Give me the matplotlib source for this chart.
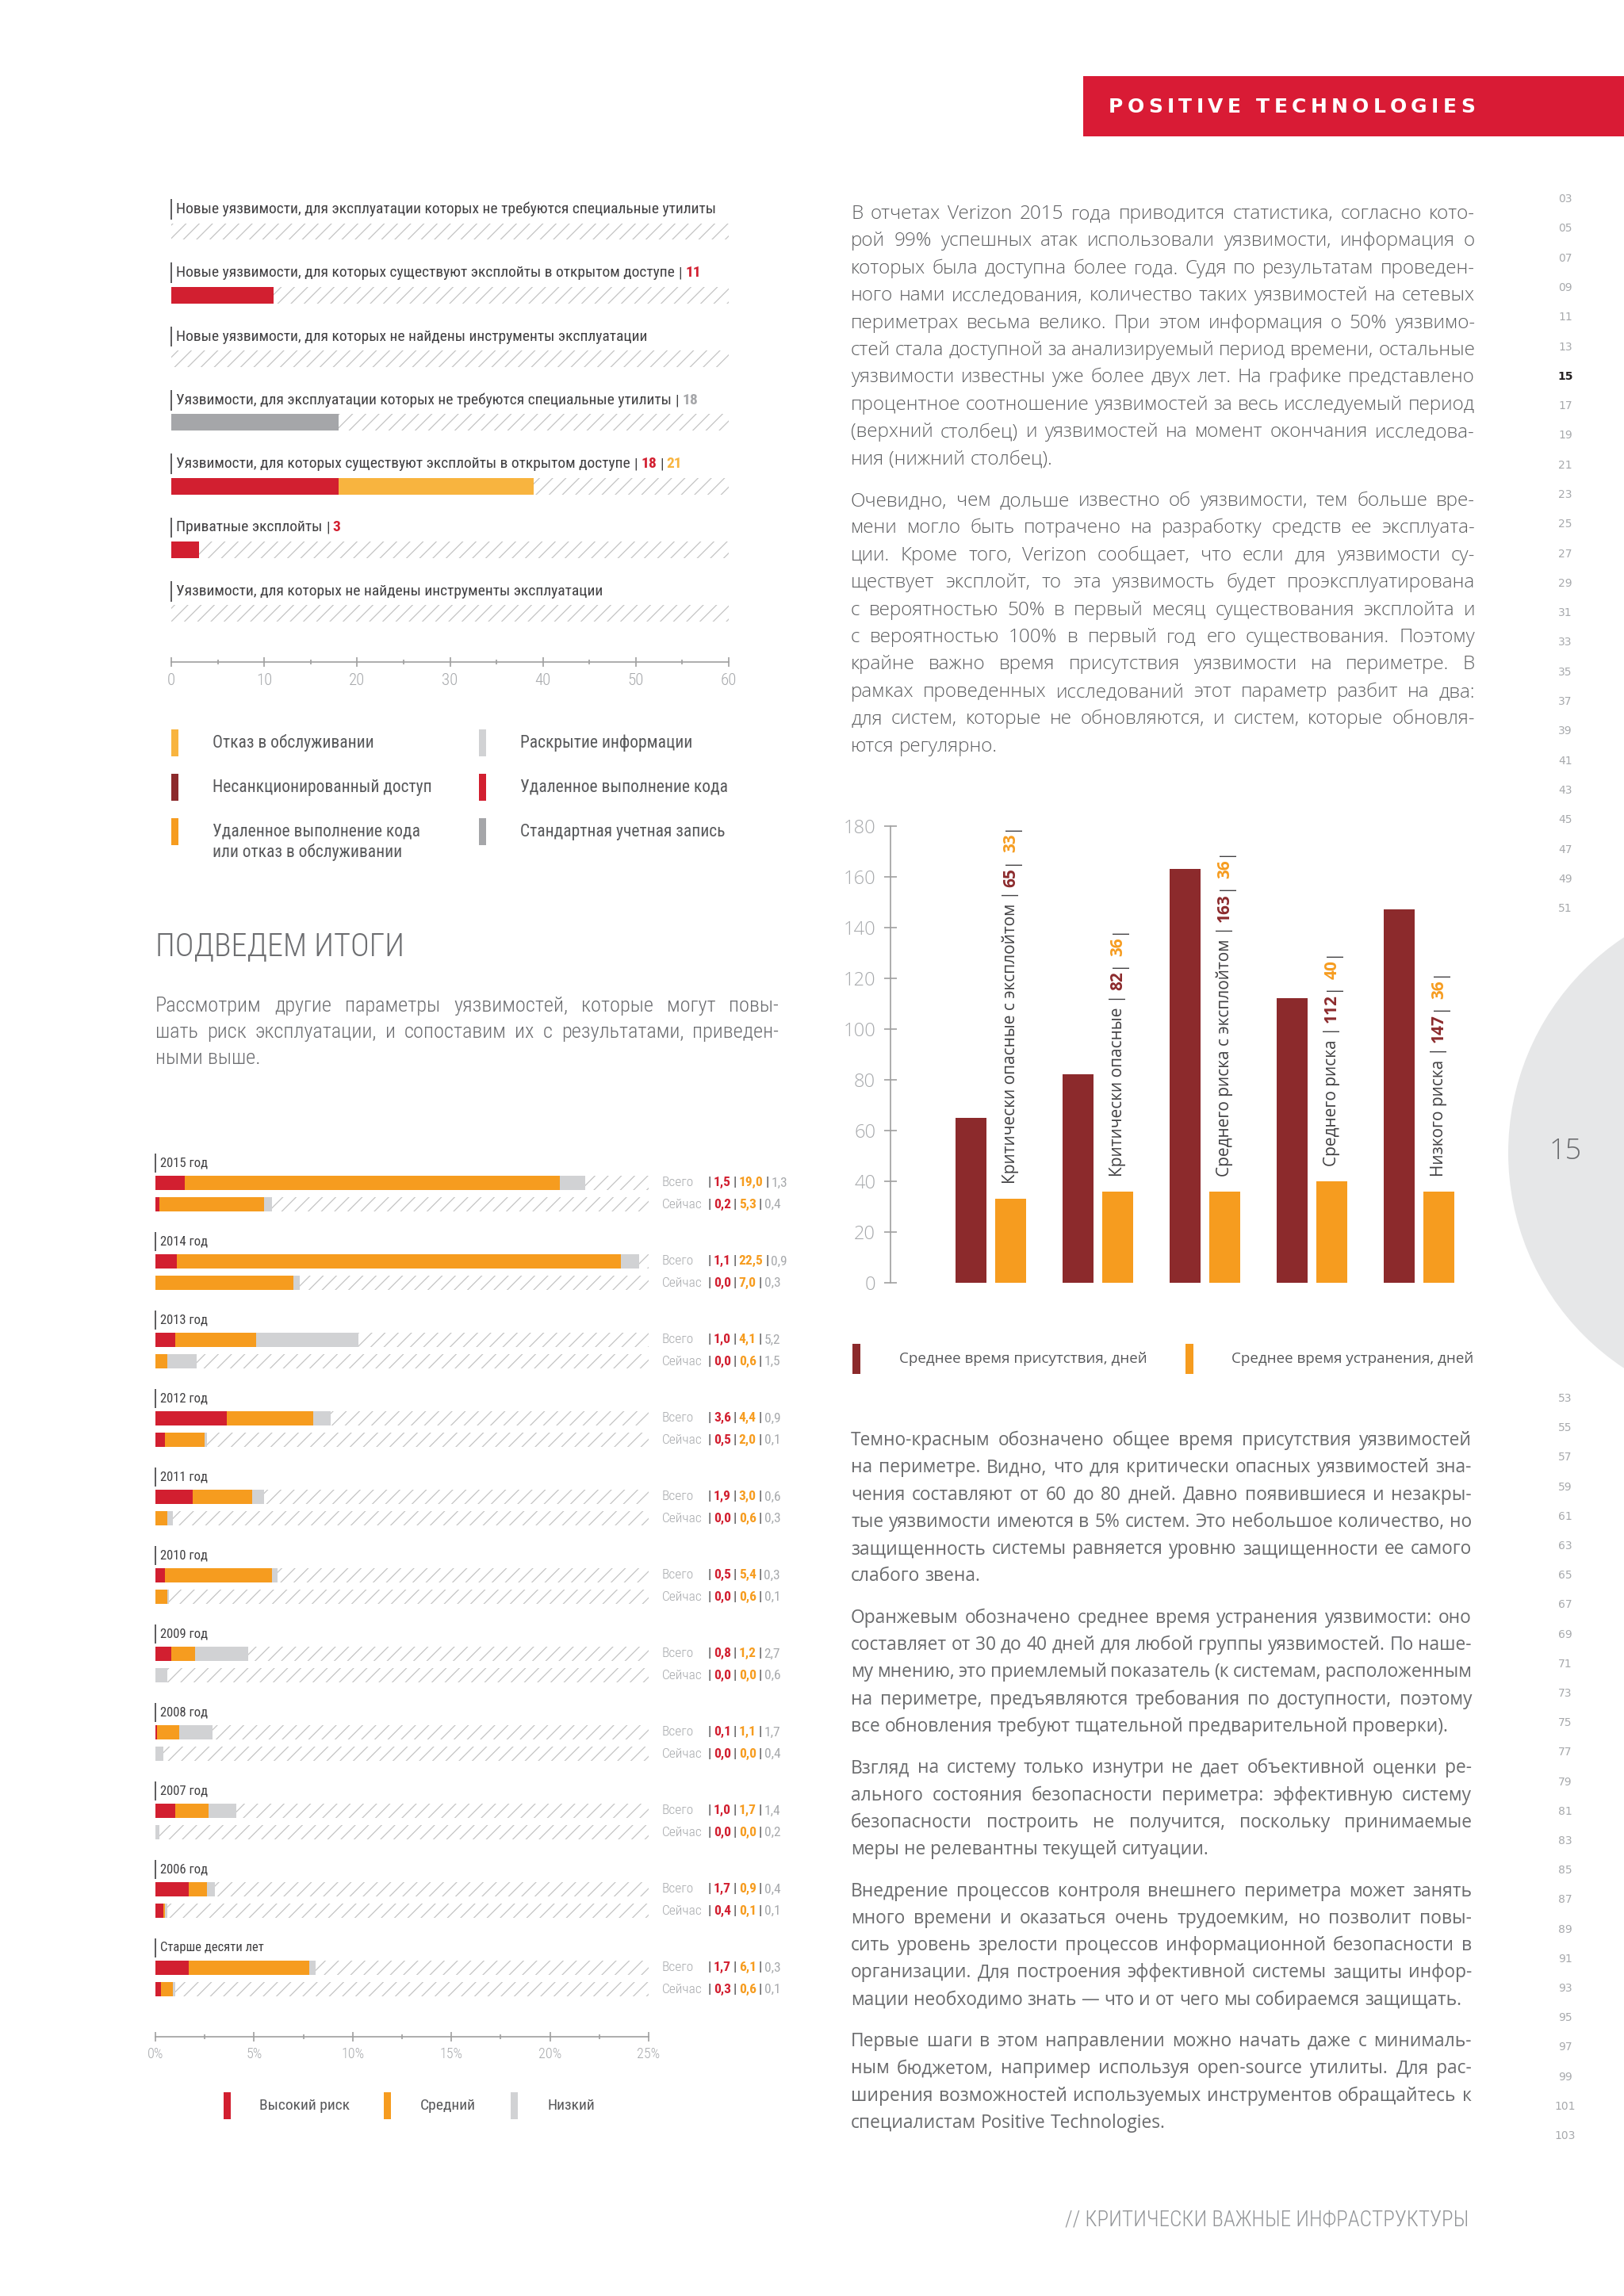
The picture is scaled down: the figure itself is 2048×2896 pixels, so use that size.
import numpy as np
import matplotlib
matplotlib.use("Agg")
import matplotlib.pyplot as plt
from matplotlib import font_manager
from matplotlib.font_manager import FontProperties
from matplotlib.patches import Rectangle, Circle
from matplotlib.transforms import blended_transform_factory

W, H = 2048, 2896

# ---------------- data ----------------
top_labels = [
    "Новые уязвимости, для эксплуатации которых не требуются специальные утилиты",
    "Новые уязвимости, для которых существуют эксплойты в открытом доступе",
    "Новые уязвимости, для которых не найдены инструменты эксплуатации",
    "Уязвимости, для эксплуатации которых не требуются специальные утилиты",
    "Уязвимости, для которых существуют эксплойты в открытом доступе",
    "Приватные эксплойты",
    "Уязвимости, для которых не найдены инструменты эксплуатации",
]
top_rce = [0, 11, 0, 0, 18, 3, 0]
top_dos = [0, 0, 0, 0, 21, 0, 0]
top_account = [0, 0, 0, 18, 0, 0, 0]
top_ticks = [0, 10, 20, 30, 40, 50, 60]

legend_left = ["Отказ в обслуживании", "Несанкционированный доступ",
               "Удаленное выполнение кода\nили отказ в обслуживании"]
legend_right = ["Раскрытие информации", "Удаленное выполнение кода",
                "Стандартная учетная запись"]

periods = ["2015 год", "2014 год", "2013 год", "2012 год", "2011 год", "2010 год",
           "2009 год", "2008 год", "2007 год", "2006 год", "Старше десяти лет"]
total_high = [1.5, 1.1, 1.0, 3.6, 1.9, 0.5, 0.8, 0.1, 1.0, 1.7, 1.7]
total_mid = [19.0, 22.5, 4.1, 4.4, 3.0, 5.4, 1.2, 1.1, 1.7, 0.9, 6.1]
total_low = [1.3, 0.9, 5.2, 0.9, 0.6, 0.3, 2.7, 1.7, 1.4, 0.4, 0.3]
now_high = [0.2, 0.0, 0.0, 0.5, 0.0, 0.0, 0.0, 0.0, 0.0, 0.4, 0.3]
now_mid = [5.3, 7.0, 0.6, 2.0, 0.6, 0.6, 0.0, 0.0, 0.0, 0.1, 0.6]
now_low = [0.4, 0.3, 1.5, 0.1, 0.3, 0.1, 0.6, 0.4, 0.2, 0.1, 0.1]
risk_ticks = [0, 5, 10, 15, 20, 25]
risk_legend = ["Высокий риск", "Средний", "Низкий"]

categories = ["Критически опасные с эксплойтом", "Критически опасные",
              "Среднего риска с эксплойтом", "Среднего риска", "Низкого риска"]
presence_days = [65, 82, 163, 112, 147]
fix_days = [33, 36, 36, 40, 36]
days_ticks = list(range(0, 181, 20))
days_legend = ["Среднее время присутствия, дней", "Среднее время устранения, дней"]

pages_top = ["03", "05", "07", "09", "11", "13", "15", "17", "19", "21", "23", "25", "27",
             "29", "31", "33", "35", "37", "39", "41", "43", "45", "47", "49", "51"]
pages_bottom = [str(n) for n in range(53, 104, 2)]
current_page = "15"

heading = "ПОДВЕДЕМ ИТОГИ"
intro = [["Рассмотрим другие параметры уязвимостей, которые могут повы-",
          "шать риск эксплуатации, и сопоставим их с результатами, приведен-",
          "ными выше."]]

text_upper = [
    ["В отчетах Verizon 2015 года приводится статистика, согласно кото-",
     "рой 99% успешных атак использовали уязвимости, информация о",
     "которых была доступна более года. Судя по результатам проведен-",
     "ного нами исследования, количество таких уязвимостей на сетевых",
     "периметрах весьма велико. При этом информация о 50% уязвимо-",
     "стей стала доступной за анализируемый период времени, остальные",
     "уязвимости известны уже более двух лет. На графике представлено",
     "процентное соотношение уязвимостей за весь исследуемый период",
     "(верхний столбец) и уязвимостей на момент окончания исследова-",
     "ния (нижний столбец)."],
    ["Очевидно, чем дольше известно об уязвимости, тем больше вре-",
     "мени могло быть потрачено на разработку средств ее эксплуата-",
     "ции. Кроме того, Verizon сообщает, что если для уязвимости су-",
     "ществует эксплойт, то эта уязвимость будет проэксплуатирована",
     "с вероятностью 50% в первый месяц существования эксплойта и",
     "с вероятностью 100% в первый год его существования. Поэтому",
     "крайне важно время присутствия уязвимости на периметре. В",
     "рамках проведенных исследований этот параметр разбит на два:",
     "для систем, которые не обновляются, и систем, которые обновля-",
     "ются регулярно."],
]
text_lower = [
    ["Темно-красным обозначено общее время присутствия уязвимостей",
     "на периметре. Видно, что для критически опасных уязвимостей зна-",
     "чения составляют от 60 до 80 дней. Давно появившиеся и незакры-",
     "тые уязвимости имеются в 5% систем. Это небольшое количество, но",
     "защищенность системы равняется уровню защищенности ее самого",
     "слабого звена."],
    ["Оранжевым обозначено среднее время устранения уязвимости: оно",
     "составляет от 30 до 40 дней для любой группы уязвимостей. По наше-",
     "му мнению, это приемлемый показатель (к системам, расположенным",
     "на периметре, предъявляются требования по доступности, поэтому",
     "все обновления требуют тщательной предварительной проверки)."],
    ["Взгляд на систему только изнутри не дает объективной оценки ре-",
     "ального состояния безопасности периметра: эффективную систему",
     "безопасности построить не получится, поскольку принимаемые",
     "меры не релевантны текущей ситуации."],
    ["Внедрение процессов контроля внешнего периметра может занять",
     "много времени и оказаться очень трудоемким, но позволит повы-",
     "сить уровень зрелости процессов информационной безопасности в",
     "организации. Для построения эффективной системы защиты инфор-",
     "мации необходимо знать — что и от чего мы собираемся защищать."],
    ["Первые шаги в этом направлении можно начать даже с минималь-",
     "ным бюджетом, например используя open-source утилиты. Для рас-",
     "ширения возможностей используемых инструментов обращайтесь к",
     "специалистам Positive Technologies."],
]
footer = "// КРИТИЧЕСКИ ВАЖНЫЕ ИНФРАСТРУКТУРЫ"
brand = "POSITIVE TECHNOLOGIES"

# ---------------- style ----------------
RED = "#D21F30"
DOS_YEL = "#F8B43F"
ORANGE = "#F69C1F"
DRED = "#8C2A2C"
LGRAY = "#D1D2D4"
MGRAY = "#A5A6A9"
HATCH = "#C4C4C4"
TXT = "#414042"
SOFT = "#A7A9AC"
BODYC = "#5E5F61"
HEADER_RED = "#D91B35"

installed = {f.name for f in font_manager.fontManager.ttflist}


def first_font(*names):
    for n in names:
        if n in installed:
            return n
    return "DejaVu Sans"


NARROW = first_font("Roboto Condensed", "Liberation Sans Narrow")
BODY = first_font("Open Sans", "Noto Sans", "Lato")
NS = 1.0 if NARROW != "DejaVu Sans" else 0.8

plt.rcParams["hatch.linewidth"] = 0.9
plt.rcParams["hatch.color"] = HATCH

fig = plt.figure(figsize=(W / 100, H / 100), dpi=100)
bg = fig.add_axes([0, 0, 1, 1])
bg.set_xlim(0, W)
bg.set_ylim(H, 0)
bg.axis("off")
renderer = fig.canvas.get_renderer()


def tw(s, prop):
    return renderer.get_text_width_height_descent(s, prop, ismath=False)[0]


def px_axes(left, top, width, height):
    ax = fig.add_axes([left / W, 1 - (top + height) / H, width / W, height / H])
    ax.patch.set_alpha(0)
    return ax


def chain(ax, prev, parts, size, family, gap=2.5, rotate=False):
    for s, color, weight in parts:
        if rotate:
            prev = ax.annotate(s, xy=(0.5, 1), xycoords=prev, xytext=(0, gap),
                               textcoords="offset points", rotation=90, ha="center",
                               va="bottom", color=color, fontsize=size,
                               family=family, weight=weight)
        else:
            prev = ax.annotate(s, xy=(1, 0), xycoords=prev, xytext=(gap, 0),
                               textcoords="offset points", ha="left", va="bottom",
                               color=color, fontsize=size, family=family, weight=weight)
    return prev


def text_block(paras, x0, y0, width, step, pgap, size, family, weight, color):
    prop = FontProperties(family=family, size=size, weight=weight)
    sp = tw("x x", prop) - tw("xx", prop)
    worst = max(sum(tw(w, prop) for w in line.split()) + 0.8 * sp * (len(line.split()) - 1)
                for para in paras for line in para[:-1])
    if worst > width:
        prop.set_size(size * width / worst)
        sp = tw("x x", prop) - tw("xx", prop)
    y = y0
    for para in paras:
        for k, line in enumerate(para):
            words = line.split()
            ws = [tw(w, prop) for w in words]
            gap = sp if (k == len(para) - 1 or len(words) < 2) else \
                (width - sum(ws)) / (len(words) - 1)
            x = x0
            for w, wd in zip(words, ws):
                bg.text(x, y, w, fontproperties=prop, color=color, va="baseline", ha="left")
                x += wd + gap
            y += step
        y += pgap


def tracked(s, x0, x1, y, prop, color):
    sp = tw("x x", prop) - tw("xx", prop)
    ws = [sp if c == " " else tw(c, prop) for c in s]
    track = (x1 - x0 - sum(ws)) / (len(s) - 1)
    x = x0
    for c, w in zip(s, ws):
        if c != " ":
            bg.text(x, y, c, fontproperties=prop, color=color, va="center", ha="left")
        x += w + track


def marker(x, y, color, w=9, h=34):
    bg.add_patch(Rectangle((x - w / 2, y - h / 2), w, h, color=color, lw=0))


# ---------------- header ----------------
bg.add_patch(Rectangle((1366, 96), W - 1366, 76, color=HEADER_RED, lw=0))
tracked(brand, 1398, 1860, 135,
        FontProperties(family="DejaVu Sans", size=18, weight="bold"), "white")

# ---------------- top-left chart ----------------
ax1 = px_axes(216, 240, 703, 595)
rows = np.arange(len(top_labels))
ax1.barh(rows, top_ticks[-1], height=0.26, color="white", hatch="//",
         edgecolor=HATCH, linewidth=0)
left = np.zeros(len(rows))
for vals, col in [(top_rce, RED), (top_dos, DOS_YEL), (top_account, MGRAY)]:
    vals = np.array(vals, float)
    ax1.barh(rows, vals, left=left, height=0.26, color=col, linewidth=0)
    left += vals
ax1.set_xlim(0, 60)
ax1.set_ylim(6.762, -0.648)
for s in ["top", "left", "right"]:
    ax1.spines[s].set_visible(False)
ax1.spines["bottom"].set_color("#A0A0A0")
ax1.spines["bottom"].set_linewidth(1.2)
ax1.set_yticks([])
ax1.set_xticks(top_ticks)
ax1.set_xticks(np.arange(5, 60, 10), minor=True)
ax1.tick_params(axis="x", which="major", direction="inout", length=8, width=1.2,
                color="#A0A0A0", labelcolor=SOFT, labelsize=15 * NS, pad=6)
ax1.tick_params(axis="x", which="minor", direction="inout", length=4, width=1.2,
                color="#A0A0A0")
for lab in ax1.get_xticklabels():
    lab.set_family(NARROW)
    lab.set_weight("light")

for i, lab in enumerate(top_labels):
    yl = i - 0.35
    ax1.plot([0, 0], [yl - 0.16, yl + 0.16], color=TXT, lw=1.2, clip_on=False,
             solid_capstyle="butt")
    t = ax1.text(0.55, yl, lab, va="center", ha="left", color=TXT,
                 fontsize=14 * NS, family=NARROW)
    parts = []
    for vals, col in [(top_rce, RED), (top_dos, DOS_YEL), (top_account, MGRAY)]:
        if vals[i]:
            parts += [("|", TXT, "normal"), (str(vals[i]), col, "bold")]
    chain(ax1, t, parts, 14 * NS, NARROW, gap=3)

# legend of the top chart
leg_rows = [937, 993, 1049]
for labs, cols, mx, tx in [(legend_left, [DOS_YEL, DRED, ORANGE], 220, 268),
                           (legend_right, [LGRAY, RED, MGRAY], 608, 656)]:
    for lab, col, y in zip(labs, cols, leg_rows):
        marker(mx, y, col)
        for k, line in enumerate(lab.split("\n")):
            bg.text(tx, y + 26 * k, line, va="center", ha="left", color="#58595B",
                    fontsize=15.5 * NS, family=NARROW)

# ---------------- heading and intro ----------------
bg.text(196, 1194, heading, va="center", ha="left", color="#6D6E71",
        fontsize=29 * NS, family=NARROW, weight="light")
text_block(intro, 196, 1276, 786, 33, 0, 19 * NS, NARROW, "light", "#6D6E71")

# ---------------- bottom-left chart ----------------
ax2 = px_axes(196, 1440, 622, 1129)
g = np.arange(len(periods))
y_tot = g
y_now = g + 0.273
for yy in (y_tot, y_now):
    ax2.barh(yy, risk_ticks[-1], height=0.19, color="white", hatch="//",
             edgecolor=HATCH, linewidth=0)
for yy, series in [(y_tot, (total_high, total_mid, total_low)),
                   (y_now, (now_high, now_mid, now_low))]:
    left = np.zeros(len(g))
    for vals, col in zip(series, (RED, ORANGE, LGRAY)):
        vals = np.array(vals)
        ax2.barh(yy, vals, left=left, height=0.19, color=col, linewidth=0)
        left += vals
ax2.set_xlim(0, 25)
ax2.set_ylim(10.879, -0.525)
for s in ["top", "left", "right"]:
    ax2.spines[s].set_visible(False)
ax2.spines["bottom"].set_color("#A0A0A0")
ax2.spines["bottom"].set_linewidth(1.2)
ax2.set_yticks([])
ax2.set_xticks(risk_ticks)
ax2.set_xticklabels([f"{v}%" for v in risk_ticks])
ax2.set_xticks(np.arange(2.5, 25, 5), minor=True)
ax2.tick_params(axis="x", which="major", direction="inout", length=8, width=1.2,
                color="#A0A0A0", labelcolor=SOFT, labelsize=13 * NS, pad=5)
ax2.tick_params(axis="x", which="minor", direction="inout", length=5, width=1.2,
                color="#A0A0A0")
for lab in ax2.get_xticklabels():
    lab.set_family(NARROW)
    lab.set_weight("light")

trans = blended_transform_factory(bg.transData, ax2.transData)


def fmt(v):
    return f"{v:.1f}".replace(".", ",")


for i, per in enumerate(periods):
    yl = i - 0.253
    ax2.plot([0, 0], [yl - 0.12, yl + 0.12], color=TXT, lw=1.2, clip_on=False,
             solid_capstyle="butt")
    ax2.text(0.25, yl, per, va="center", ha="left", color=TXT, fontsize=12 * NS,
             family=NARROW)
    for yy, name, vals in [(y_tot[i], "Всего", (total_high, total_mid, total_low)),
                           (y_now[i], "Сейчас", (now_high, now_mid, now_low))]:
        ax2.text(835, yy, name, transform=trans, va="center", ha="left", color=SOFT,
                 fontsize=12.5 * NS, family=NARROW, weight="light")
        t = ax2.text(893, yy, "|", transform=trans, va="center", ha="left", color=TXT,
                     fontsize=12.5 * NS, family=NARROW)
        parts = [(fmt(vals[0][i]), RED, "bold"), ("|", TXT, "normal"),
                 (fmt(vals[1][i]), ORANGE, "bold"), ("|", TXT, "normal"),
                 (fmt(vals[2][i]), SOFT, "normal")]
        chain(ax2, t, parts, 12.5 * NS, NARROW, gap=2)

for lab, col, mx, tx in zip(risk_legend, (RED, ORANGE, LGRAY), (286, 488, 648),
                            (327, 530, 691)):
    marker(mx, 2656, col, w=9, h=34)
    bg.text(tx, 2656, lab, va="center", ha="left", color="#58595B",
            fontsize=14 * NS, family=NARROW)

# ---------------- right column text ----------------
text_block(text_upper, 1073, 276, 787, 34.4, 18, 18, BODY, "light", BODYC)
text_block(text_lower, 1073, 1823, 783, 34.3, 18, 18, BODY, "normal", "#6A6B6D")

# ---------------- right bar chart ----------------
ax3 = px_axes(1123, 1041.6, 737, 576.4)
x = np.arange(len(categories))
ax3.bar(x - 0.185, presence_days, width=0.29, color=DRED, linewidth=0)
ax3.bar(x + 0.185, fix_days, width=0.29, color=ORANGE, linewidth=0)
ax3.set_xlim(-0.937, 4.52)
ax3.set_ylim(0, 180)
for s in ["top", "bottom", "right"]:
    ax3.spines[s].set_visible(False)
ax3.spines["left"].set_color("#A0A0A0")
ax3.spines["left"].set_linewidth(1.2)
ax3.set_xticks([])
ax3.set_yticks(days_ticks)
ax3.tick_params(axis="y", direction="inout", length=11, width=1.2, color="#A0A0A0",
                labelcolor=SOFT, labelsize=17, pad=8)
for lab in ax3.get_yticklabels():
    lab.set_family(BODY)
    lab.set_weight("light")

for i, cat in enumerate(categories):
    t = ax3.text(x[i] + 0.185, fix_days[i] + 6, cat + " |", rotation=90, ha="center",
                 va="bottom", color=TXT, fontsize=15, family=BODY)
    parts = [(str(presence_days[i]), DRED, "bold"), ("|", TXT, "normal"),
             (str(fix_days[i]), ORANGE, "bold"), ("|", TXT, "normal")]
    chain(ax3, t, parts, 15, BODY, gap=3, rotate=True)

for lab, col, mx, tx in zip(days_legend, (DRED, ORANGE), (1080, 1500), (1134, 1553)):
    marker(mx, 1714, col, w=10, h=38)
    bg.text(tx, 1714, lab, va="center", ha="left", color="#58595B", fontsize=13.5,
            family=BODY)

# ---------------- page navigation ----------------
bg.add_patch(Circle((2228, 1454), 326, color="#E6E7E8", lw=0))
bg.text(1974, 1452, current_page, va="center", ha="center", color="#6D6E71",
        fontsize=26, family=BODY, weight="light")
for k, p in enumerate(pages_top):
    cur = p == current_page
    bg.text(1974, 251 + 37.3 * k, p, va="center", ha="center",
            color="#231F20" if cur else SOFT, fontsize=10,
            weight="bold" if cur else "normal", family="DejaVu Sans")
for k, p in enumerate(pages_bottom):
    bg.text(1974, 1764 + 37.2 * k, p, va="center", ha="center", color=SOFT,
            fontsize=10, family="DejaVu Sans")

bg.text(1852, 2800, footer, va="center", ha="right", color="#939598",
        fontsize=19.5 * NS, family=NARROW, weight="light")

fig.savefig("out.png", dpi=100)
